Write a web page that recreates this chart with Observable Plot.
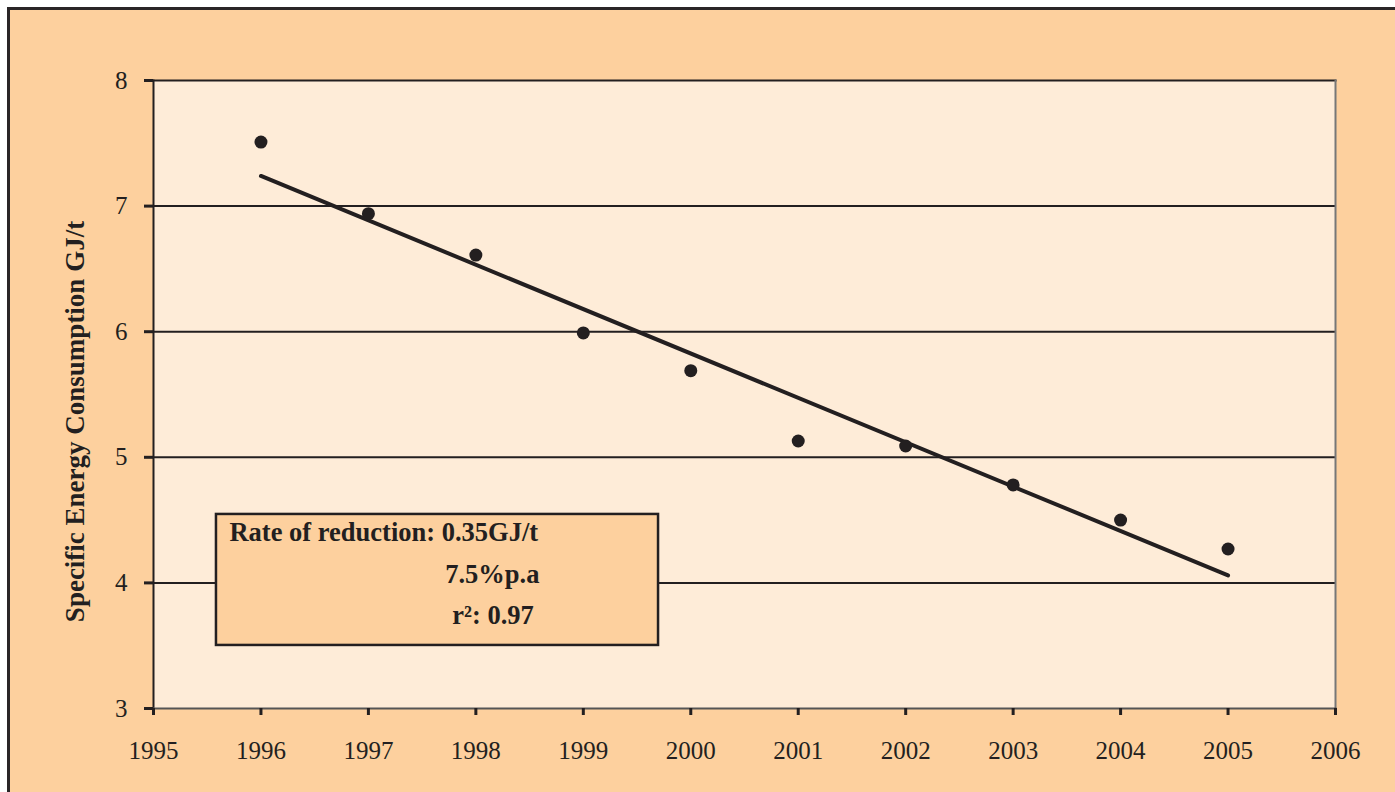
<!DOCTYPE html>
<html>
<head>
<meta charset="utf-8">
<script src="https://cdn.jsdelivr.net/npm/d3@7"></script>
<script src="https://cdn.jsdelivr.net/npm/@observablehq/plot@0.6"></script>
<style>
  html, body { margin: 0; padding: 0; background: #ffffff; overflow: hidden; }
  #frame {
    position: absolute; left: 7px; top: 7px;
    width: 1388px; height: 785px;
    border-left: 3px solid #2a2627; border-top: 3px solid #2a2627;
    background: #fdd09e;
  }
  #frame svg { display: block; }
</style>
</head>
<body>
<div id="frame"></div>
<script>
// ---- data ----
const years = [1996, 1997, 1998, 1999, 2000, 2001, 2002, 2003, 2004, 2005];
const energy = [7.51, 6.94, 6.61, 5.99, 5.69, 5.13, 5.09, 4.78, 4.50, 4.27];
const trendYears = [1996, 2005];
const trendValues = [7.24, 4.06];
const xTicks = [1995, 1996, 1997, 1998, 1999, 2000, 2001, 2002, 2003, 2004, 2005, 2006];
const yTicks = [3, 4, 5, 6, 7, 8];
const gridValues = [4, 5, 6, 7];
const yLabel = "Specific Energy Consumption GJ/t";
const noteLines = ["Rate of reduction: 0.35GJ/t", "7.5%p.a", "r²: 0.97"];
// annotation box (data coordinates)
const noteBox = [{x1: 1995.586, x2: 1999.70, y1: 3.502, y2: 4.545}];
const noteStart = [
  {x: 1995.707, y: 4.40, text: noteLines[0]},
  {x: 1997.78, y: 3.737, text: noteLines[2]}
];
const noteEnd = [
  {x: 1998.592, y: 4.067, text: noteLines[1]}
];

const points = years.map((y, i) => ({year: y, value: energy[i]}));
const trend = trendYears.map((y, i) => ({year: y, value: trendValues[i]}));

const ink = "#231f20";

const chart = Plot.plot({
  width: 1385,
  height: 782,
  marginLeft: 143,
  marginTop: 70,
  marginRight: 60,
  marginBottom: 84,
  style: {fontFamily: "'Liberation Serif', 'Times New Roman', serif", fontSize: "25px", background: "transparent", color: ink},
  x: {domain: [1995, 2006]},
  y: {domain: [3, 8]},
  marks: [
    Plot.frame({fill: "#feecd8", stroke: "none"}),
    Plot.ruleY(gridValues, {stroke: ink, strokeWidth: 2}),
    Plot.rect(noteBox, {x1: "x1", x2: "x2", y1: "y1", y2: "y2", fill: "#fdd09e", stroke: ink, strokeWidth: 2.5}),
    Plot.text(noteStart, {x: "x", y: "y", text: "text", textAnchor: "start", fontWeight: "bold", fontSize: 26.5, fill: ink, lineAnchor: "middle"}),
    Plot.text(noteEnd, {x: "x", y: "y", text: "text", textAnchor: "end", fontWeight: "bold", fontSize: 26.5, fill: ink, lineAnchor: "middle"}),
    Plot.line(trend, {x: "year", y: "value", stroke: ink, strokeWidth: 4}),
    Plot.dot(points, {x: "year", y: "value", r: 6.5, fill: ink, stroke: "none"}),
    Plot.frame({anchor: "top", stroke: ink, strokeWidth: 2}),
    Plot.frame({anchor: "left", stroke: ink, strokeWidth: 2}),
    Plot.frame({anchor: "right", stroke: "#777", strokeWidth: 2}),
    Plot.frame({anchor: "bottom", stroke: "#555", strokeWidth: 2}),
    Plot.axisY({ticks: yTicks, tickSize: 9, tickFormat: () => "", label: null, stroke: ink, strokeWidth: 3}),
    Plot.text(yTicks, {y: d => d, frameAnchor: "left", text: d => String(d), textAnchor: "end", dx: -26, lineAnchor: "middle", fontSize: 25, fill: ink}),
    Plot.axisX({ticks: xTicks, tickSize: 7, tickPadding: 26, tickFormat: d => String(d), label: null, stroke: ink, strokeWidth: 3}),
    Plot.text([yLabel], {frameAnchor: "left", text: d => d, rotate: -90, dx: -78, dy: 27, textAnchor: "middle", lineAnchor: "middle", fontWeight: "bold", fontSize: 27, fill: ink})
  ]
});
document.getElementById("frame").appendChild(chart);
</script>
</body>
</html>
